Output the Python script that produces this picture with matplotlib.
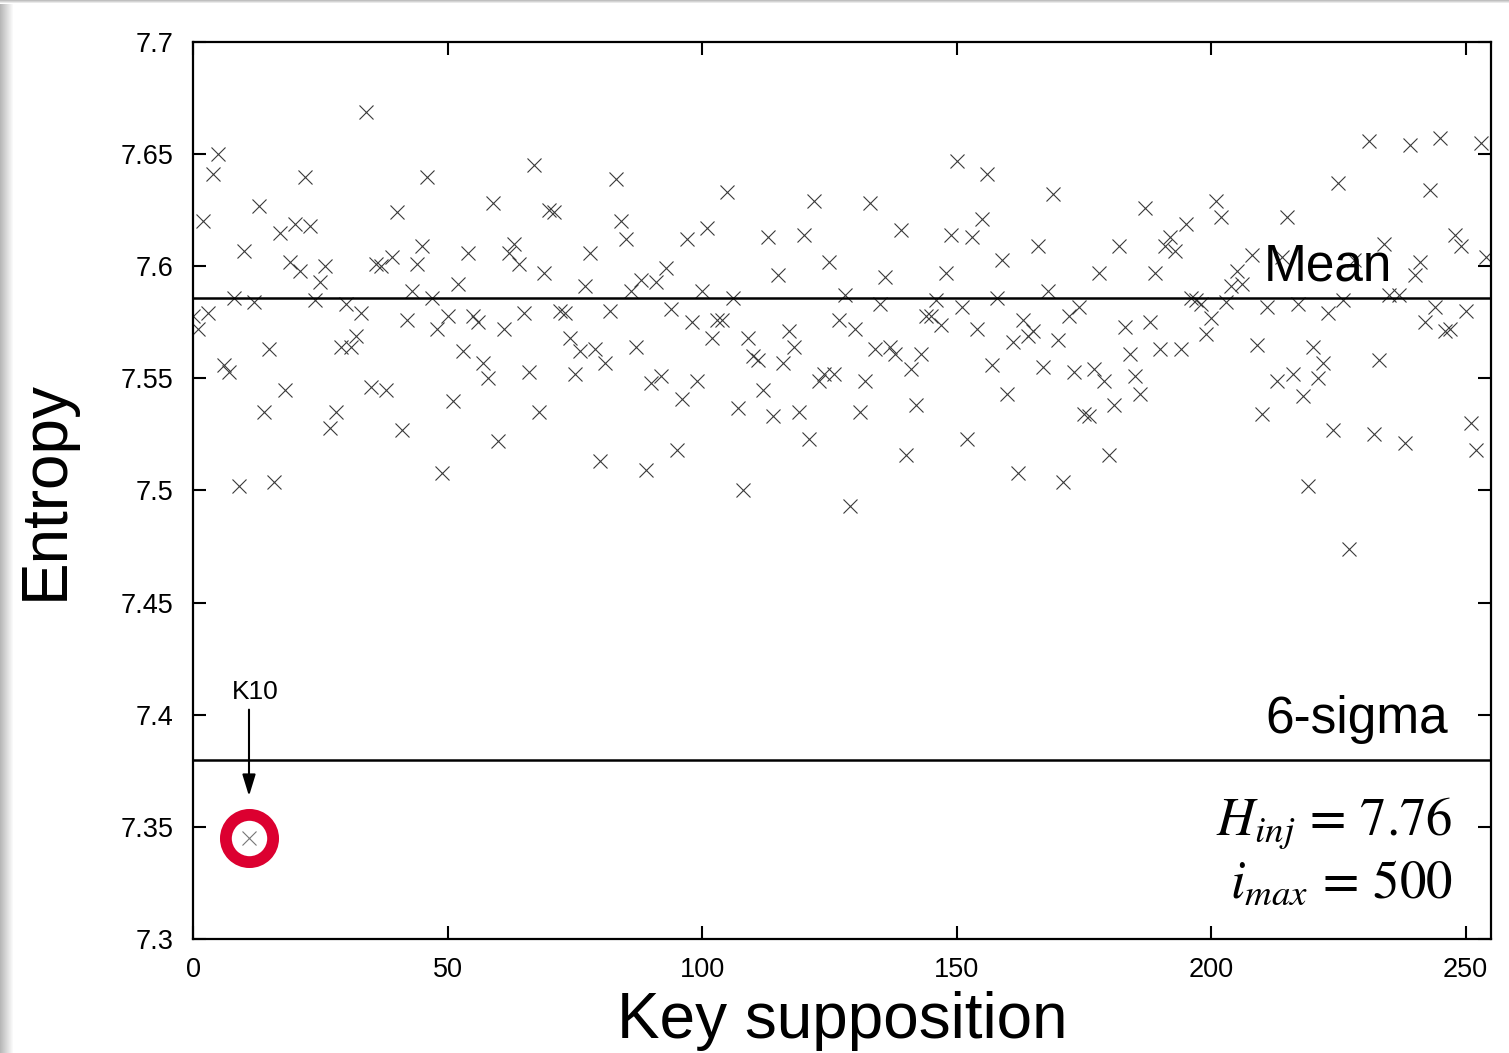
import numpy as np
import matplotlib
matplotlib.use('Agg')
import matplotlib.pyplot as plt

plt.rcParams['font.family'] = ['Liberation Sans', 'DejaVu Sans']
plt.rcParams['mathtext.fontset'] = 'stix'

# entropy per key supposition
keys = [0, 1, 2, 3, 4, 5, 6, 7, 8, 9, 10, 12, 13, 14, 15, 16, 17, 18, 19, 20,
        21, 22, 23, 24, 25, 26, 27, 28, 29, 30, 31, 32, 33, 34, 35, 36, 37, 38, 39, 40,
        41, 42, 43, 44, 45, 46, 47, 48, 49, 50, 51, 52, 53, 54, 55, 56, 57, 58, 59, 60,
        61, 62, 63, 64, 65, 66, 67, 68, 69, 70, 71, 72, 73, 74, 75, 76, 77, 78, 79, 80,
        81, 82, 83, 84, 85, 86, 87, 88, 89, 90, 91, 92, 93, 94, 95, 96, 97, 98, 99, 100,
        101, 102, 103, 104, 105, 106, 107, 108, 109, 110, 111, 112, 113, 114, 115, 116, 117, 118, 119, 120,
        121, 122, 123, 124, 125, 126, 127, 128, 129, 130, 131, 132, 133, 134, 135, 136, 137, 138, 139, 140,
        141, 142, 143, 144, 145, 146, 147, 148, 149, 150, 151, 152, 153, 154, 155, 156, 157, 158, 159, 160,
        161, 162, 163, 164, 165, 166, 167, 168, 169, 170, 171, 172, 173, 174, 175, 176, 177, 178, 179, 180,
        181, 182, 183, 184, 185, 186, 187, 188, 189, 190, 191, 192, 193, 194, 195, 196, 197, 198, 199, 200,
        201, 202, 203, 204, 205, 206, 208, 209, 210, 211, 213, 214, 215, 216, 217, 218, 219, 220, 221, 222,
        223, 224, 225, 226, 227, 228, 231, 232, 233, 234, 235, 237, 238, 239, 240, 241, 242, 243, 244, 245,
        246, 247, 248, 249, 250, 251, 252, 253, 254]
entropy = [7.578, 7.572, 7.620, 7.579, 7.641, 7.650, 7.556, 7.553, 7.586, 7.502, 7.607, 7.584, 7.627, 7.535, 7.563, 7.504, 7.615, 7.545, 7.602, 7.619,
           7.598, 7.640, 7.618, 7.585, 7.593, 7.600, 7.528, 7.535, 7.564, 7.583, 7.564, 7.569, 7.579, 7.669, 7.546, 7.601, 7.600, 7.545, 7.604, 7.624,
           7.527, 7.576, 7.589, 7.601, 7.609, 7.640, 7.586, 7.572, 7.508, 7.578, 7.540, 7.592, 7.562, 7.606, 7.578, 7.575, 7.557, 7.550, 7.628, 7.522,
           7.572, 7.606, 7.610, 7.601, 7.579, 7.553, 7.645, 7.535, 7.597, 7.625, 7.624, 7.580, 7.579, 7.568, 7.552, 7.562, 7.591, 7.606, 7.563, 7.513,
           7.557, 7.580, 7.639, 7.620, 7.612, 7.589, 7.564, 7.594, 7.509, 7.548, 7.593, 7.551, 7.599, 7.581, 7.518, 7.541, 7.612, 7.575, 7.549, 7.589,
           7.617, 7.568, 7.576, 7.576, 7.633, 7.586, 7.537, 7.500, 7.568, 7.560, 7.558, 7.545, 7.613, 7.533, 7.596, 7.557, 7.571, 7.564, 7.535, 7.614,
           7.523, 7.629, 7.549, 7.552, 7.602, 7.552, 7.576, 7.587, 7.493, 7.572, 7.535, 7.549, 7.628, 7.563, 7.583, 7.595, 7.564, 7.561, 7.616, 7.516,
           7.554, 7.538, 7.561, 7.578, 7.578, 7.585, 7.574, 7.597, 7.614, 7.647, 7.582, 7.523, 7.613, 7.572, 7.621, 7.641, 7.556, 7.586, 7.603, 7.543,
           7.566, 7.508, 7.576, 7.569, 7.571, 7.609, 7.555, 7.589, 7.632, 7.567, 7.504, 7.578, 7.553, 7.582, 7.534, 7.533, 7.554, 7.597, 7.549, 7.516,
           7.538, 7.609, 7.573, 7.561, 7.551, 7.543, 7.626, 7.575, 7.597, 7.563, 7.609, 7.613, 7.607, 7.563, 7.619, 7.586, 7.585, 7.583, 7.570, 7.577,
           7.629, 7.622, 7.584, 7.591, 7.598, 7.592, 7.605, 7.565, 7.534, 7.582, 7.549, 7.604, 7.622, 7.552, 7.583, 7.542, 7.502, 7.564, 7.550, 7.557,
           7.579, 7.527, 7.637, 7.585, 7.474, 7.603, 7.656, 7.525, 7.558, 7.610, 7.587, 7.587, 7.521, 7.654, 7.596, 7.602, 7.575, 7.634, 7.582, 7.657,
           7.571, 7.572, 7.614, 7.609, 7.580, 7.530, 7.518, 7.655, 7.604]

k10_key = 11
k10_entropy = 7.345
mean_level = 7.586
sigma6_level = 7.380

fig = plt.figure(figsize=(15.09, 10.53), dpi=100)

# soft shadow on left/top edge of the picture
grad = np.linspace(0.72, 1.0, 14)
shade = np.tile(grad, (1053, 1))
fig.figimage(np.dstack([shade] * 3), xo=0, yo=0, zorder=0)
top = np.tile(np.linspace(0.75, 1.0, 4)[:, None], (1, 1509))
fig.figimage(np.dstack([top] * 3), xo=0, yo=1049, zorder=0)

ax = fig.add_axes([0.1279, 0.1083, 0.8602, 0.8518])

ax.plot(keys, entropy, 'x', color='#3a3a3a', markersize=10.5, markeredgewidth=0.8)
ax.plot([k10_key], [k10_entropy], 'x', color='#777777', markersize=10.5, markeredgewidth=0.8)
ax.plot([k10_key], [k10_entropy], 'o', markersize=34, markerfacecolor='none',
        markeredgecolor='#dc0030', markeredgewidth=8.5)

ax.axhline(mean_level, color='black', lw=1.8)
ax.axhline(sigma6_level, color='black', lw=1.8)

ax.text(235.5, 7.5995, 'Mean', fontsize=37, ha='right', va='center')
ax.text(246.5, 7.398, '6-sigma', fontsize=37, ha='right', va='center')
ax.text(247.5, 7.3515, r'$H_{inj}\,=\,7.76$', fontsize=38, ha='right', va='center')
ax.text(247.5, 7.3245, r'$i_{max}\,=\,500$', fontsize=38, ha='right', va='center')

ax.annotate('', xy=(k10_key, 7.3625), xytext=(k10_key, 7.4035),
            arrowprops=dict(arrowstyle='-|>,head_length=1.3,head_width=0.4', color='black', lw=1.5))
ax.text(k10_key + 1.2, 7.41, 'K10', fontsize=19, ha='center', va='center')

ax.set_xlim(0, 255)
ax.set_ylim(7.3, 7.7)
ax.set_xticks(np.arange(0, 251, 50))
ax.set_yticks(np.arange(7.3, 7.701, 0.05))
ax.set_yticklabels(['7.3', '7.35', '7.4', '7.45', '7.5', '7.55', '7.6', '7.65', '7.7'])
ax.tick_params(direction='in', length=9.5, width=1.5, top=True, right=True, labelsize=19.5)
ax.tick_params(axis='y', pad=14)
ax.tick_params(axis='x', pad=13)
for s in ax.spines.values():
    s.set_linewidth(1.6)

ax.set_xlabel('Key supposition', fontsize=46, labelpad=6)
ax.set_ylabel('Entropy', fontsize=46, labelpad=32)

plt.savefig('out.png', dpi=100)
